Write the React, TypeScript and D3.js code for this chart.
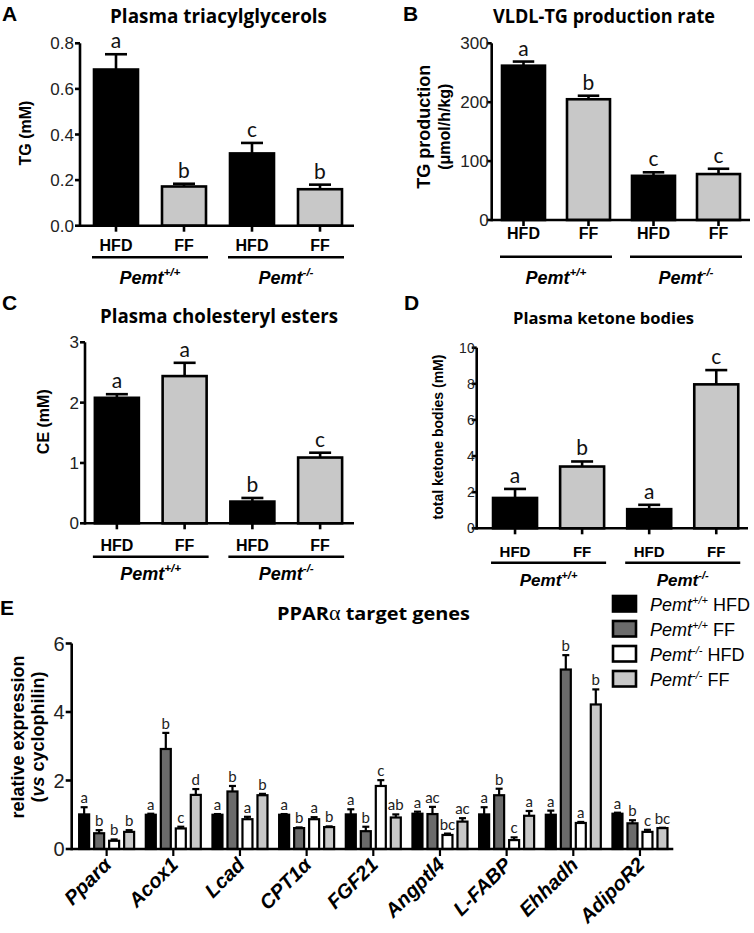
import React from "react";
import * as d3 from "d3";

// ---------- DATA ----------
const dietLabels = ["HFD", "FF", "HFD", "FF"];
const genotypeSup = ["+/+", "-/-"];
const panelFills = ["#000000", "#c8c8c8", "#000000", "#c8c8c8"];

const tgMeans = [0.685, 0.172, 0.317, 0.16];
const tgErr = [0.067, 0.012, 0.046, 0.02];
const tgLetters = ["a", "b", "c", "b"];

const vldlMeans = [262, 205, 75, 78];
const vldlErr = [7, 6, 6, 9];
const vldlLetters = ["a", "b", "c", "c"];

const ceMeans = [2.08, 2.44, 0.36, 1.09];
const ceErr = [0.06, 0.22, 0.06, 0.08];
const ceLetters = ["a", "a", "b", "c"];

const ketoneMeans = [1.68, 3.42, 1.06, 7.97];
const ketoneErr = [0.5, 0.28, 0.24, 0.79];
const ketoneLetters = ["a", "b", "a", "c"];

const genes = ["Pparα", "Acox1", "Lcad", "CPT1α", "FGF21", "Angptl4", "L-FABP", "Ehhadh", "AdipoR2"];
const seriesNames = ["HFD", "FF", "HFD", "FF"];
const seriesGenotype = ["+/+", "+/+", "-/-", "-/-"];
const seriesFills = ["#000000", "#6b6b6b", "#ffffff", "#c8c8c8"];

const wtHfdMeans = [1.01, 1.0, 1.0, 1.0, 1.01, 1.03, 1.01, 1.0, 1.03];
const wtHfdErr = [0.21, 0.03, 0.02, 0.02, 0.15, 0.06, 0.21, 0.12, 0.03];
const wtHfdLetters = ["a", "a", "a", "a", "a", "a", "a", "a", "a"];

const wtFfMeans = [0.46, 2.92, 1.68, 0.61, 0.52, 1.02, 1.57, 5.24, 0.75];
const wtFfErr = [0.09, 0.47, 0.16, 0.02, 0.13, 0.21, 0.19, 0.42, 0.09];
const wtFfLetters = ["b", "b", "b", "b", "b", "ac", "b", "b", "b"];

const koHfdMeans = [0.24, 0.6, 0.87, 0.87, 1.84, 0.41, 0.26, 0.76, 0.5];
const koHfdErr = [0.04, 0.05, 0.07, 0.06, 0.17, 0.04, 0.08, 0.03, 0.06];
const koHfdLetters = ["b", "c", "a", "a", "c", "bc", "c", "a", "c"];

const koFfMeans = [0.5, 1.58, 1.57, 0.64, 0.92, 0.8, 0.97, 4.22, 0.61];
const koFfErr = [0.05, 0.17, 0.04, 0.02, 0.09, 0.1, 0.14, 0.44, 0.01];
const koFfLetters = ["b", "d", "b", "b", "ab", "ac", "a", "b", "bc"];

const eTicks = [0, 2, 4, 6];

// ---------- STYLE ----------
const ARIAL = "'Liberation Sans', Arial, Helvetica, sans-serif";
const LATO = "Lato, 'Open Sans', sans-serif";
const TITLE = "'Open Sans', Lato, sans-serif";

function PemtLabel({ x, y, sup, size }: any) {
  return (
    <text x={x} y={y} textAnchor="middle" fontFamily={ARIAL} fontWeight="bold" fontStyle="italic" fontSize={size}>
      Pemt
      <tspan fontSize={size * 0.65} dy={-size * 0.42}>{sup}</tspan>
    </text>
  );
}

function BarPanel(p: any) {
  const y = d3.scaleLinear().domain([0, p.yMax]).range([p.yBottom, p.yTop]);
  const x = d3.scalePoint<number>().domain(d3.range(4)).range([p.xStart, p.xEnd]).padding(0.5);
  const fmt = d3.format(p.fmt);
  const bw = p.bw;
  const sw = 2.6;
  return (
    <g>
      <text x={p.letterX} y={p.letterY} fontFamily={ARIAL} fontWeight="bold" fontSize={21}>{p.letter}</text>
      <text x={p.titleX - p.titleLen / 2} y={p.titleY} fontFamily={TITLE} fontWeight="bold" fontSize={p.titleSize}
        textLength={p.titleLen} lengthAdjust="spacingAndGlyphs">{p.title}</text>
      {p.ylabels.map((l: any, i: number) => (
        <text key={i} transform={`translate(${l.x},${p.ylabelY}) rotate(-90)`} textAnchor="middle" fontFamily={ARIAL} fontWeight="bold" fontSize={l.size}>{l.text}</text>
      ))}
      {p.means.map((m: number, i: number) => {
        const cx = x(i)!;
        const top = y(m);
        const et = y(m + p.errs[i]);
        const cw = bw * 0.5;
        return (
          <g key={i}>
            <line x1={cx} x2={cx} y1={top} y2={et} stroke="#000" strokeWidth={sw} />
            <line x1={cx - cw / 2} x2={cx + cw / 2} y1={et} y2={et} stroke="#000" strokeWidth={sw} />
            <rect x={cx - bw / 2} y={top} width={bw} height={y(0) - top} fill={panelFills[i]} stroke="#000" strokeWidth={sw} />
            <text x={cx} y={et - 6} textAnchor="middle" fontFamily={LATO} fontSize={p.sigSize} fill="#111">{p.letters[i]}</text>
            <line x1={cx} x2={cx} y1={y(0)} y2={y(0) + 6} stroke="#000" strokeWidth={sw} />
            <text x={cx} y={p.hfdY} textAnchor="middle" fontFamily={ARIAL} fontWeight="bold" fontSize={p.hfdSize}>{dietLabels[i]}</text>
          </g>
        );
      })}
      <line x1={p.axisX} x2={p.axisX} y1={y(0) + 1.3} y2={y(p.yMax)} stroke="#000" strokeWidth={sw} />
      <line x1={p.axisX} x2={p.axisEnd} y1={y(0)} y2={y(0)} stroke="#000" strokeWidth={sw} />
      {p.ticks.map((t: number) => (
        <g key={t}>
          <line x1={p.axisX - 5} x2={p.axisX} y1={y(t)} y2={y(t)} stroke="#000" strokeWidth={sw} />
          <text x={p.axisX - p.tickGap} y={y(t)} dy="0.36em" textAnchor="end" fontFamily={ARIAL} fontSize={p.tickSize} fill="#222">{fmt(t)}</text>
        </g>
      ))}
      {[0, 1].map((g) => {
        const x1 = x(g * 2)! - bw / 2 - 2;
        const x2 = x(g * 2 + 1)! + bw / 2 + 2;
        return (
          <g key={g}>
            <line x1={x1} x2={x2} y1={p.lineY} y2={p.lineY} stroke="#000" strokeWidth={2.6} />
            <PemtLabel x={(x1 + x2) / 2} y={p.pemtY} sup={genotypeSup[g]} size={p.pemtSize} />
          </g>
        );
      })}
    </g>
  );
}

function PanelE() {
  const y = d3.scaleLinear().domain([0, 6]).range([849, 643.5]);
  const x = d3.scaleBand<string>().domain(genes).range([73.3, 673.3]);
  const sub = d3.scaleBand<number>().domain([0, 1, 2, 3]).range([-30, 30]);
  const means = [wtHfdMeans, wtFfMeans, koHfdMeans, koFfMeans];
  const errs = [wtHfdErr, wtFfErr, koHfdErr, koFfErr];
  const letters = [wtHfdLetters, wtFfLetters, koHfdLetters, koFfLetters];
  const bw = 10;
  const sw = 2.2;
  const axisX = 71.7;
  return (
    <g>
      <text x={0} y={615} fontFamily={ARIAL} fontWeight="bold" fontSize={21}>E</text>
      <text x={277} y={620} fontFamily={TITLE} fontWeight="bold" fontSize={18} textLength={193} lengthAdjust="spacingAndGlyphs">
        PPAR<tspan fontFamily="'Liberation Serif', serif" fontWeight="normal" fontSize={20}>α</tspan> target genes
      </text>
      <text transform={`translate(24,737) rotate(-90)`} textAnchor="middle" fontFamily={ARIAL} fontWeight="bold" fontSize={18}>relative expression</text>
      <text transform={`translate(44,737) rotate(-90)`} textAnchor="middle" fontFamily={ARIAL} fontWeight="bold" fontSize={18}>
        (<tspan fontStyle="italic">vs</tspan> cyclophilin)
      </text>
      {genes.map((g, gi) => {
        const gc = x(g)! + x.bandwidth() / 2;
        return (
          <g key={g}>
            {[0, 1, 2, 3].map((s) => {
              const cx = gc + sub(s)! + sub.bandwidth() / 2;
              const m = means[s][gi];
              const top = y(m);
              const et = y(m + errs[s][gi]);
              return (
                <g key={s}>
                  <line x1={cx} x2={cx} y1={top} y2={et} stroke="#000" strokeWidth={sw} />
                  <line x1={cx - 3.5} x2={cx + 3.5} y1={et} y2={et} stroke="#000" strokeWidth={sw} />
                  <rect x={cx - bw / 2} y={top} width={bw} height={y(0) - top} fill={seriesFills[s]} stroke="#000" strokeWidth={sw} />
                  <text x={cx} y={et - 4} textAnchor="middle" fontFamily={LATO} fontSize={15} fill="#222">{letters[s][gi]}</text>
                </g>
              );
            })}
            <line x1={gc} x2={gc} y1={y(0)} y2={y(0) + 7} stroke="#000" strokeWidth={sw} />
            <text transform={`translate(${gc + 6},${866}) rotate(-45)`} textAnchor="end" fontFamily={ARIAL} fontWeight="bold" fontStyle="italic" fontSize={20}>{g}</text>
          </g>
        );
      })}
      <line x1={axisX} x2={axisX} y1={y(0) + 1.3} y2={y(6)} stroke="#000" strokeWidth={2.6} />
      <line x1={axisX} x2={673.3} y1={y(0)} y2={y(0)} stroke="#000" strokeWidth={2.6} />
      {eTicks.map((t) => (
        <g key={t}>
          <line x1={axisX - 6} x2={axisX} y1={y(t)} y2={y(t)} stroke="#000" strokeWidth={2.6} />
          <text x={axisX - 7} y={y(t)} dy="0.36em" textAnchor="end" fontFamily={ARIAL} fontSize={20} fill="#222">{t}</text>
        </g>
      ))}
      {[0, 1, 2, 3].map((s) => {
        const ty = 596 + s * 25;
        return (
          <g key={s}>
            <rect x={613} y={ty} width={23} height={15.5} fill={seriesFills[s]} stroke="#000" strokeWidth={2.6} />
            <text x={650} y={ty + 15} fontFamily={ARIAL} fontSize={18}>
              <tspan fontStyle="italic">Pemt</tspan>
              <tspan fontStyle="italic" fontSize={11} dy={-7}>{seriesGenotype[s]}</tspan>
              <tspan dy={7}>{" " + seriesNames[s]}</tspan>
            </text>
          </g>
        );
      })}
    </g>
  );
}

export default function App() {
  return (
    <svg width={754} height={933} style={{ position: "absolute", left: 0, top: 0, background: "#fff" }}>
      <rect width={754} height={933} fill="#fff" />
      <BarPanel
        letter="A" letterX={2} letterY={21}
        title="Plasma triacylglycerols" titleX={218.5} titleY={23} titleSize={19} titleLen={217}
        ylabels={[{ text: "TG (mM)", x: 31, size: 16 }]} ylabelY={133}
        means={tgMeans} errs={tgErr} letters={tgLetters}
        axisX={80} axisEnd={354} xStart={82} xEnd={354}
        yBottom={225.7} yTop={43.3} yMax={0.8} ticks={[0, 0.2, 0.4, 0.6, 0.8]} fmt=".1f"
        tickSize={17} tickGap={6} bw={44} sigSize={21}
        hfdY={250.7} hfdSize={16} lineY={257.3} pemtY={284} pemtSize={18}
      />
      <BarPanel
        letter="B" letterX={403} letterY={21}
        title="VLDL-TG production rate" titleX={604} titleY={23.3} titleSize={19} titleLen={222}
        ylabels={[{ text: "TG production", x: 430, size: 18 }, { text: "(μmol/h/kg)", x: 450, size: 16 }]} ylabelY={126.7}
        means={vldlMeans} errs={vldlErr} letters={vldlLetters}
        axisX={491.7} axisEnd={750} xStart={491} xEnd={751}
        yBottom={220} yTop={43.3} yMax={300} ticks={[0, 100, 200, 300]} fmt="d"
        tickSize={17} tickGap={3} bw={43} sigSize={21}
        hfdY={239.3} hfdSize={16} lineY={256.7} pemtY={284} pemtSize={18}
      />
      <BarPanel
        letter="C" letterX={2} letterY={310}
        title="Plasma cholesteryl esters" titleX={219} titleY={323.3} titleSize={19} titleLen={238}
        ylabels={[{ text: "CE (mM)", x: 49, size: 16 }]} ylabelY={421.7}
        means={ceMeans} errs={ceErr} letters={ceLetters}
        axisX={85} axisEnd={354} xStart={83} xEnd={354}
        yBottom={523.3} yTop={342.3} yMax={3} ticks={[0, 1, 2, 3]} fmt="d"
        tickSize={17} tickGap={6} bw={44} sigSize={21}
        hfdY={550.7} hfdSize={16} lineY={556.7} pemtY={580} pemtSize={18}
      />
      <BarPanel
        letter="D" letterX={404} letterY={310}
        title="Plasma ketone bodies" titleX={603.5} titleY={324.3} titleSize={16} titleLen={181}
        ylabels={[{ text: "total ketone bodies (mM)", x: 443, size: 14 }]} ylabelY={437}
        means={ketoneMeans} errs={ketoneErr} letters={ketoneLetters}
        axisX={476.7} axisEnd={748} xStart={481.5} xEnd={749.8}
        yBottom={528.3} yTop={347.7} yMax={10} ticks={[0, 2, 4, 6, 8, 10]} fmt="d"
        tickSize={14} tickGap={2} bw={44} sigSize={21}
        hfdY={556.5} hfdSize={15} lineY={562.7} pemtY={586} pemtSize={17}
      />
      <PanelE />
    </svg>
  );
}
